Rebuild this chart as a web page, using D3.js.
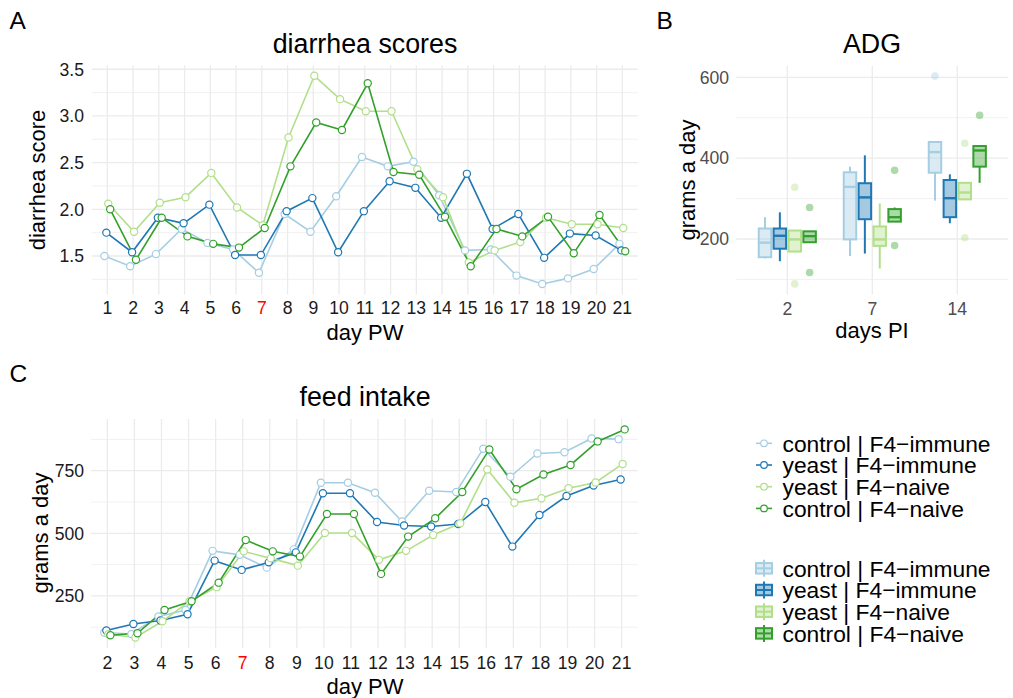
<!DOCTYPE html>
<html><head><meta charset="utf-8">
<script src="https://cdn.jsdelivr.net/npm/d3@7"></script>
<style>body{margin:0;background:#fff} svg{display:block} text{font-family:"Liberation Sans",Arial,Helvetica,sans-serif}</style>
</head><body><svg id="c" width="1013" height="698"></svg>
<script>
// ---------- data ----------
const groups = ["control | F4\u2212immune", "yeast | F4\u2212immune", "yeast | F4\u2212naive", "control | F4\u2212naive"];
const colors = ["#A6CEE3", "#1F78B4", "#B2DF8A", "#33A02C"];

const diarrheaDays = ["1","2","3","4","5","6","7","8","9","10","11","12","13","14","15","16","17","18","19","20","21"];
const diarrheaControlImmune = [1.50,1.39,1.52,1.79,1.64,1.57,1.32,1.95,1.76,2.14,2.56,2.46,2.51,2.15,1.56,1.57,1.29,1.20,1.26,1.36,1.63];
const diarrheaYeastImmune   = [1.75,1.54,1.91,1.85,2.05,1.51,1.51,1.98,2.12,1.54,1.98,2.30,2.23,1.91,2.38,1.79,1.95,1.48,1.74,1.72,1.56];
const diarrheaYeastNaive    = [2.06,1.76,2.07,2.13,2.39,2.02,1.83,2.77,3.43,3.18,3.05,3.05,2.43,2.13,1.43,1.56,1.65,1.91,1.84,1.84,1.80];
const diarrheaControlNaive  = [2.00,1.46,1.91,1.71,1.63,1.59,1.80,2.46,2.93,2.85,3.35,2.40,2.37,1.92,1.39,1.79,1.71,1.92,1.53,1.94,1.55];
const diarrheaTicks = [1.5, 2.0, 2.5, 3.0, 3.5];
const diarrheaMinor = [1.25, 1.75, 2.25, 2.75, 3.25];

const feedDays = ["2","3","4","5","6","7","8","9","10","11","12","13","14","15","16","17","18","19","20","21"];
const feedControlImmune = [104,98,168,194,430,414,363,436,702,702,662,547,670,665,838,726,819,824,879,876];
const feedYeastImmune   = [112,138,152,177,391,354,384,424,660,660,545,531,527,537,625,447,573,649,691,715];
const feedYeastNaive    = [97,84,149,229,285,428,400,371,501,501,394,430,493,540,755,622,640,680,703,777];
const feedControlNaive  = [93,101,194,229,303,473,428,407,577,577,338,487,560,665,835,676,735,773,867,915];
const feedTicks = [250, 500, 750];
const feedMinor = [125, 375, 625, 875];

const adgDays = ["2","7","14"];
// [lower whisker, Q1, median, Q3, upper whisker] per day PI
const adgControlImmune = [[152,155,191,226,254],[158,199,329,365,379],[295,364,415,440,440]];
const adgYeastImmune   = [[145,176,208,226,266],[164,249,303,338,407],[239,254,301,346,360]];
const adgYeastNaive    = [[169,169,199,221,222],[127,183,199,231,288],[298,298,315,339,341]];
const adgControlNaive  = [[192,192,207,219,219],[243,243,254,274,278],[339,379,419,430,430]];
const adgOutControlImmune = [[],[],[603]];
const adgOutYeastImmune   = [[],[],[]];
const adgOutYeastNaive    = [[328,89],[],[437,203]];
const adgOutControlNaive  = [[278,117],[370,184],[506]];
const adgTicks = [200, 400, 600];
const adgMinor = [100, 300, 500];

// ---------- drawing ----------
const svg = d3.select("#c");
const FONT_TICK = 17.6, FONT_AXIS = 22, FONT_TITLE = 26.8, FONT_TAG = 24.5, FONT_LEGEND = 22.8;
const GRID = "#ebebeb";

function grid(g, x, y, cats, major, minor) {
  const [x0, x1] = x.range(); const [y0, y1] = y.range();
  g.selectAll(null).data(minor).join("line")
    .attr("x1", x0).attr("x2", x1).attr("y1", d => y(d)).attr("y2", d => y(d))
    .attr("stroke", GRID).attr("stroke-width", 0.7);
  g.selectAll(null).data(major).join("line")
    .attr("x1", x0).attr("x2", x1).attr("y1", d => y(d)).attr("y2", d => y(d))
    .attr("stroke", GRID).attr("stroke-width", 1.3);
  g.selectAll(null).data(cats).join("line")
    .attr("x1", d => x(d)).attr("x2", d => x(d)).attr("y1", y0).attr("y2", y1)
    .attr("stroke", GRID).attr("stroke-width", 1.3);
}

function axes(g, x, y, cats, major, fmt, tickColor, xLabY, yLabX, redCat) {
  g.selectAll(null).data(major).join("text")
    .attr("x", yLabX).attr("y", d => y(d)).attr("dy", "0.36em")
    .attr("text-anchor", "end").attr("font-size", FONT_TICK).attr("fill", tickColor)
    .text(fmt);
  g.selectAll(null).data(cats).join("text")
    .attr("x", d => x(d)).attr("y", xLabY).attr("dy", "0.36em")
    .attr("text-anchor", "middle").attr("font-size", FONT_TICK)
    .attr("fill", d => d === redCat ? "#ff0000" : tickColor)
    .text(d => d);
}

function label(txt, x, y, size, rot, anchor) {
  const t = svg.append("text").attr("font-size", size).attr("text-anchor", anchor || "middle")
    .attr("fill", "#000").text(txt);
  if (rot) t.attr("transform", `translate(${x},${y}) rotate(-90)`).attr("dy", "0.36em");
  else t.attr("x", x).attr("y", y).attr("dy", "0.36em");
}

function linePanel(cats, seriesList, x, y, dodgeW) {
  const g = svg.append("g");
  const n = seriesList.length;
  const off = i => (-dodgeW / 2 + dodgeW / n * (i + 0.5)) * x.step();
  const line = d3.line();
  seriesList.forEach((vals, i) => {
    const pts = cats.map((c, j) => [x(c) + off(i), y(vals[j])]);
    g.append("path").attr("d", line(pts)).attr("fill", "none")
      .attr("stroke", colors[i]).attr("stroke-width", 1.6);
  });
  seriesList.forEach((vals, i) => {
    g.selectAll(null).data(cats).join("circle")
      .attr("cx", (c) => x(c) + off(i)).attr("cy", (c, j) => y(vals[j])).attr("r", 3.6)
      .attr("fill", "#fff").attr("stroke", colors[i]).attr("stroke-width", 1.2);
  });
}

// Panel A
{
  const x = d3.scalePoint().domain(diarrheaDays).range([91.85, 637.8]).padding(0.6);
  const y = d3.scaleLinear().domain([1.0885, 3.5415]).range([294.4, 65.4]);
  const g = svg.append("g");
  grid(g, x, y, diarrheaDays, diarrheaTicks, diarrheaMinor);
  axes(g, x, y, diarrheaDays, diarrheaTicks, d3.format(".1f"), "#1a1a1a", 308, 84, "7");
  linePanel(diarrheaDays, [diarrheaControlImmune, diarrheaYeastImmune, diarrheaYeastNaive, diarrheaControlNaive], x, y, 0.3);
  label("diarrhea scores", 365, 43, FONT_TITLE);
  label("diarrhea score", 37, 180, FONT_AXIS, true);
  label("day PW", 365, 332, FONT_AXIS);
  label("A", 9.5, 20.5, FONT_TAG, false, "start");
}

// Panel C
{
  const x = d3.scalePoint().domain(feedDays).range([91.1, 637.9]).padding(0.6);
  const y = d3.scaleLinear().domain([42.45, 956.55]).range([647.9, 419]);
  const g = svg.append("g");
  grid(g, x, y, feedDays, feedTicks, feedMinor);
  axes(g, x, y, feedDays, feedTicks, d3.format("d"), "#1a1a1a", 663, 84, "7");
  linePanel(feedDays, [feedControlImmune, feedYeastImmune, feedYeastNaive, feedControlNaive], x, y, 0.3);
  label("feed intake", 365, 396, FONT_TITLE);
  label("grams a day", 40, 533, FONT_AXIS, true);
  label("day PW", 365, 686, FONT_AXIS);
  label("C", 9.5, 373.5, FONT_TAG, false, "start");
}

// Panel B
{
  const x = d3.scalePoint().domain(adgDays).range([736.3, 1008.3]).padding(0.6);
  const y = d3.scaleLinear().domain([63, 628.7]).range([294.4, 65.7]);
  const g = svg.append("g");
  grid(g, x, y, adgDays, adgTicks, adgMinor);
  axes(g, x, y, adgDays, adgTicks, d3.format("d"), "#4d4d4d", 309, 729, null);
  const stats = [adgControlImmune, adgYeastImmune, adgYeastNaive, adgControlNaive];
  const outs = [adgOutControlImmune, adgOutYeastImmune, adgOutYeastNaive, adgOutControlNaive];
  const dodge = 0.7, n = 4;
  const bw = dodge / n * x.step() * 0.84;
  stats.forEach((st, i) => {
    const off = (-dodge / 2 + dodge / n * (i + 0.5)) * x.step();
    adgDays.forEach((c, j) => {
      const [lo, q1, md, q3, hi] = st[j];
      const cx = x(c) + off;
      const bg = g.append("g");
      bg.append("line").attr("x1", cx).attr("x2", cx).attr("y1", y(hi)).attr("y2", y(q3))
        .attr("stroke", colors[i]).attr("stroke-width", 2);
      bg.append("line").attr("x1", cx).attr("x2", cx).attr("y1", y(q1)).attr("y2", y(lo))
        .attr("stroke", colors[i]).attr("stroke-width", 2);
      bg.append("rect").attr("x", cx - bw / 2).attr("width", bw)
        .attr("y", y(q3)).attr("height", y(q1) - y(q3))
        .attr("fill", colors[i]).attr("fill-opacity", 0.4)
        .attr("stroke", colors[i]).attr("stroke-width", 2);
      bg.append("line").attr("x1", cx - bw / 2).attr("x2", cx + bw / 2).attr("y1", y(md)).attr("y2", y(md))
        .attr("stroke", colors[i]).attr("stroke-width", 2.4);
      bg.selectAll(null).data(outs[i][j]).join("circle")
        .attr("cx", cx).attr("cy", d => y(d)).attr("r", 3.8)
        .attr("fill", colors[i]).attr("fill-opacity", 0.4);
    });
  });
  label("ADG", 872, 43, FONT_TITLE);
  label("grams a day", 687, 180, FONT_AXIS, true);
  label("days PI", 872, 330, FONT_AXIS);
  label("B", 656.5, 20.5, FONT_TAG, false, "start");
}

// Legends
{
  const rowH = 21.7, keyX = 764, textX = 782.5;
  const lg = svg.append("g");
  groups.forEach((gname, i) => {
    const cy = 443.3 + i * rowH;
    lg.append("line").attr("x1", keyX - 8).attr("x2", keyX + 8).attr("y1", cy).attr("y2", cy)
      .attr("stroke", colors[i]).attr("stroke-width", 1.6);
    lg.append("circle").attr("cx", keyX).attr("cy", cy).attr("r", 3.3)
      .attr("fill", "#fff").attr("stroke", colors[i]).attr("stroke-width", 1.2);
    lg.append("text").attr("x", textX).attr("y", cy).attr("dy", "0.36em")
      .attr("font-size", FONT_LEGEND).attr("fill", "#000").text(gname);
  });
  groups.forEach((gname, i) => {
    const cy = 568.3 + i * rowH;
    const w = 16, h = 10.5;
    lg.append("line").attr("x1", keyX).attr("x2", keyX).attr("y1", cy - 8.5).attr("y2", cy + 8.5)
      .attr("stroke", colors[i]).attr("stroke-width", 2);
    lg.append("rect").attr("x", keyX - w / 2).attr("y", cy - h / 2).attr("width", w).attr("height", h)
      .attr("fill", colors[i]).attr("fill-opacity", 0.4).attr("stroke", colors[i]).attr("stroke-width", 2);
    lg.append("line").attr("x1", keyX - w / 2).attr("x2", keyX + w / 2).attr("y1", cy).attr("y2", cy)
      .attr("stroke", colors[i]).attr("stroke-width", 2);
    lg.append("text").attr("x", textX).attr("y", cy).attr("dy", "0.36em")
      .attr("font-size", FONT_LEGEND).attr("fill", "#000").text(gname);
  });
}
</script></body></html>
